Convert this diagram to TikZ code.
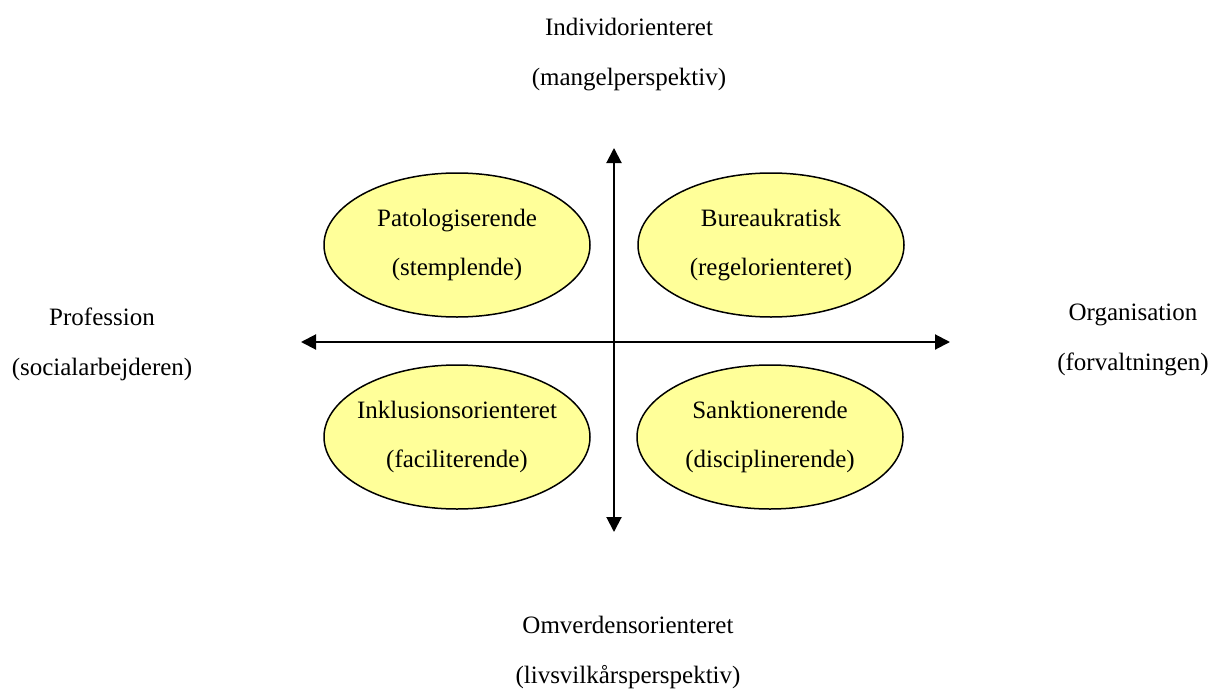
\documentclass[tikz,border=0pt]{standalone}
\usepackage{fontspec}
\setmainfont{Liberation Serif}
\usetikzlibrary{arrows.meta,shapes.geometric}
\definecolor{ellfill}{RGB}{255,255,153}
\begin{document}
\begin{tikzpicture}[x=1pt,y=-1pt,
  txt/.style={align=center,inner sep=0pt,font=\fontsize{25}{50}\selectfont},
  quad/.style={ellipse,draw=black,line width=1.5pt,fill=ellfill,minimum width=266pt,minimum height=144pt,inner xsep=-12pt,inner ysep=0pt,align=center,font=\fontsize{25}{49}\selectfont},
  axis/.style={line width=2pt,-{Triangle[length=15pt,width=15pt]}}]
\useasboundingbox (0,0) rectangle (1210,688);
\coordinate (O) at (614,342);
\coordinate (T) at (614,148);
\coordinate (B) at (614,532);
\coordinate (L) at (301,342);
\coordinate (R) at (950,342);
\draw[axis] (O) -- (T);
\draw[axis] (O) -- (B);
\draw[axis] (O) -- (L);
\draw[axis] (O) -- (R);
\node[quad] (pat) at (457,245) {Patologiserende\\(stemplende)};
\node[quad] (bur) at (771,245) {Bureaukratisk\\(regelorienteret)};
\node[quad] (ink) at (457,437) {Inklusionsorienteret\\(faciliterende)};
\node[quad] (san) at (770,437) {Sanktionerende\\(disciplinerende)};
\node[txt] (top) at (629,55) {Individorienteret\\(mangelperspektiv)};
\node[txt] (bot) at (628,652) {Omverdensorienteret\\(livsvilkårsperspektiv)};
\node[txt] (lft) at (102,344) {Profession\\(socialarbejderen)};
\node[txt] (rgt) at (1133,340) {Organisation\\(forvaltningen)};
\end{tikzpicture}
\end{document}
